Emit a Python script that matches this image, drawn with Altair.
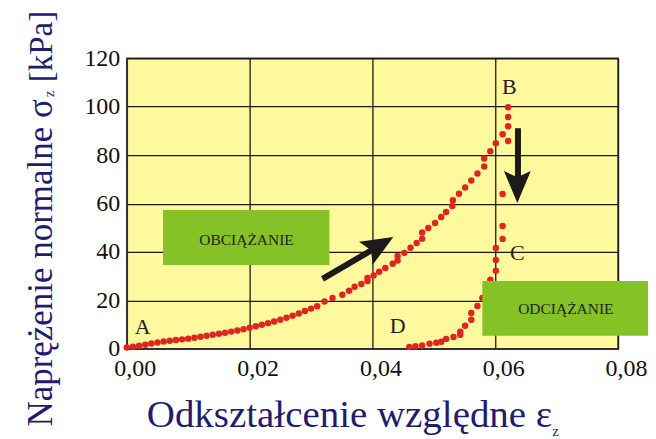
import altair as alt
import pandas as pd

# ---- data ----
load_eps = [0.000, 0.001, 0.002, 0.003, 0.004, 0.005, 0.006, 0.007, 0.008, 0.009,
            0.010, 0.011, 0.012, 0.013, 0.014, 0.015, 0.016, 0.017, 0.018, 0.019,
            0.020, 0.021, 0.022, 0.023, 0.024, 0.025, 0.026, 0.027, 0.028, 0.029,
            0.030, 0.031, 0.0322, 0.0335, 0.0351, 0.0362, 0.0371, 0.0382, 0.0392, 0.0392,
            0.0402, 0.0411, 0.0421, 0.0433, 0.0441, 0.0441, 0.0452, 0.0462, 0.0472, 0.0481,
            0.0481, 0.0491, 0.0502, 0.0512, 0.0520, 0.0530, 0.0531, 0.0541, 0.0551, 0.0561,
            0.0571, 0.0582, 0.0582, 0.0592, 0.0601, 0.0612, 0.0621, 0.0621, 0.0621]
load_sig = [0.5, 0.9, 1.3, 1.7, 2.2, 2.6, 3.0, 3.3, 3.6, 3.9,
            4.2, 4.6, 5.0, 5.4, 5.8, 6.2, 6.6, 7.1, 7.6, 8.1,
            8.7, 9.3, 9.9, 10.6, 11.3, 12.0, 12.8, 13.7, 14.6, 15.6,
            16.6, 17.6, 19.5, 21.0, 22.3, 24.0, 25.6, 26.8, 28.0, 29.3,
            30.3, 31.8, 33.4, 35.1, 36.5, 38.3, 39.6, 41.7, 43.7, 45.5,
            48.0, 49.9, 52.0, 54.4, 56.5, 59.0, 61.4, 64.0, 66.6, 69.5,
            72.4, 75.3, 78.6, 81.6, 84.9, 88.6, 91.9, 95.7, 99.8]

unload_eps = [0.0621, 0.0612, 0.0612, 0.0612, 0.0601, 0.0601, 0.0601, 0.0592, 0.0585, 0.0579,
              0.0571, 0.0561, 0.0561, 0.0551, 0.0543, 0.0543, 0.0532, 0.0520, 0.0512, 0.0504,
              0.0493, 0.0481, 0.0470, 0.0460]
unload_sig = [85.8, 63.9, 50.7, 45.4, 41.6, 36.7, 32.2, 28.5, 24.3, 21.0,
              17.7, 14.8, 12.0, 9.5, 7.0, 5.8, 4.9, 4.1, 2.9, 2.5,
              2.1, 1.4, 1.1, 0.8]

x_ticks = [0.0, 0.02, 0.04, 0.06, 0.08]
y_ticks = [0, 20, 40, 60, 80, 100, 120]

box_text = ["OBCIĄŻANIE", "ODCIĄŻANIE"]
box_x1 = [0.0059, 0.0579]
box_x2 = [0.0330, 0.0850]
box_y1 = [34.6, 5.4]
box_y2 = [57.3, 28.0]
box_tx = [0.0195, 0.0715]
box_ty = [45.0, 16.5]

pt_text = ["A", "B", "C", "D"]
pt_x = [0.0026, 0.0623, 0.0636, 0.0441]
pt_y = [9.1, 108.0, 39.6, 9.5]

arr_x1 = [0.03187, 0.0637]
arr_y1 = [28.9, 91.1]
arr_x2 = [0.0408, 0.0637]
arr_y2 = [42.1, 67.6]
head_x = [0.04117, 0.0636]
head_y = [42.8, 66.8]
head_angle = [59.4, 180]

# ---- styles ----
YELLOW = "#FFF99E"
GREEN = "#84C226"
RED = "#E02520"
NAVY = "#221C6E"
SERIF = "Liberation Serif"

xs = alt.Scale(domain=[0, 0.08], nice=False, zero=False)
ys = alt.Scale(domain=[0, 120], nice=False)

df_load = pd.DataFrame({"eps": load_eps, "sig": load_sig})
df_unload = pd.DataFrame({"eps": unload_eps, "sig": unload_sig})
df_pts = pd.concat([df_load, df_unload], ignore_index=True)

xaxis = alt.Axis(values=x_ticks, title=None, grid=True, ticks=False,
                 labelExpr="replace(format(datum.value, '.2f'), '.', ',')",
                 labelPadding=8, labelFlush=False, labelOffset=8,
                 labelFont=SERIF, labelFontSize=24, labelColor="#111111")
yaxis = alt.Axis(values=y_ticks, title=None, grid=True, ticks=False,
                 labelPadding=7, labelFont=SERIF, labelFontSize=24,
                 labelColor="#111111")

points = alt.Chart(df_pts).mark_circle(size=42, color=RED, opacity=1).encode(
    x=alt.X("eps:Q", scale=xs, axis=xaxis),
    y=alt.Y("sig:Q", scale=ys, axis=yaxis),
)

df_box = pd.DataFrame({"t": box_text, "x1": box_x1, "x2": box_x2, "y1": box_y1,
                       "y2": box_y2, "tx": box_tx, "ty": box_ty})
boxes = alt.Chart(df_box).mark_rect(color=GREEN, clip=False).encode(
    x=alt.X("x1:Q", scale=xs), x2="x2:Q",
    y=alt.Y("y1:Q", scale=ys), y2="y2:Q",
)
box_labels = alt.Chart(df_box).mark_text(font=SERIF, fontSize=15.5, color="#222222",
                                         align="center", baseline="middle").encode(
    x=alt.X("tx:Q", scale=xs), y=alt.Y("ty:Q", scale=ys), text="t:N"
)

df_pt = pd.DataFrame({"t": pt_text, "x": pt_x, "y": pt_y})
pt_labels = alt.Chart(df_pt).mark_text(font=SERIF, fontSize=22, color="#222222",
                                       align="center", baseline="middle").encode(
    x=alt.X("x:Q", scale=xs), y=alt.Y("y:Q", scale=ys), text="t:N"
)

df_arr = pd.DataFrame({"x1": arr_x1, "y1": arr_y1, "x2": arr_x2, "y2": arr_y2,
                       "hx": head_x, "hy": head_y, "a": head_angle})
shafts = alt.Chart(df_arr).mark_rule(color="#1C1A1A", strokeWidth=6).encode(
    x=alt.X("x1:Q", scale=xs), y=alt.Y("y1:Q", scale=ys), x2="x2:Q", y2="y2:Q"
)
heads = alt.Chart(df_arr).mark_point(
    shape="M0,-1 L0.84,1 L0,0.62 L-0.84,1 Z", filled=True, size=1024,
    color="#1C1A1A", opacity=1
).encode(
    x=alt.X("hx:Q", scale=xs), y=alt.Y("hy:Q", scale=ys),
    angle=alt.Angle("a:Q", scale=None)
)

one = pd.DataFrame({"k": [0]})
ytitle = alt.Chart(one).mark_text(
    text="Naprężenie normalne σ", angle=270, align="right", baseline="alphabetic",
    font=SERIF, fontSize=35, color=NAVY
).encode(x=alt.value(-75), y=alt.value(41))
ysub = alt.Chart(one).mark_text(
    text="z", angle=270, align="left", baseline="alphabetic",
    font=SERIF, fontSize=15, color=NAVY
).encode(x=alt.value(-73), y=alt.value(39))
yunit = alt.Chart(one).mark_text(
    text="[kPa]", angle=270, align="left", baseline="alphabetic",
    font=SERIF, fontSize=33, color=NAVY
).encode(x=alt.value(-75), y=alt.value(24))

xtitle = alt.Chart(one).mark_text(
    text="Odkształcenie względne ε", align="left", baseline="alphabetic",
    font=SERIF, fontSize=39, color=NAVY
).encode(x=alt.value(20), y=alt.value(369))
xsub = alt.Chart(one).mark_text(
    text="z", align="left", baseline="alphabetic",
    font=SERIF, fontSize=15, color=NAVY
).encode(x=alt.value(426), y=alt.value(378))

chart = alt.layer(
    points, boxes, box_labels, pt_labels, shafts, heads,
    ytitle, ysub, yunit, xtitle, xsub
).properties(
    width=492, height=291,
    autosize=alt.AutoSizeParams(type="none"),
    padding={"left": 119, "top": 50, "right": 30, "bottom": 90},
).configure_view(
    fill=YELLOW, stroke="#333333", strokeWidth=1.5
).configure_axis(
    domainColor="#333333", domainWidth=1.5,
    gridColor="#1a1a1a", gridWidth=1.3, gridOpacity=1
)

chart.save("out.html", embed_options={"renderer": "svg", "actions": False})
